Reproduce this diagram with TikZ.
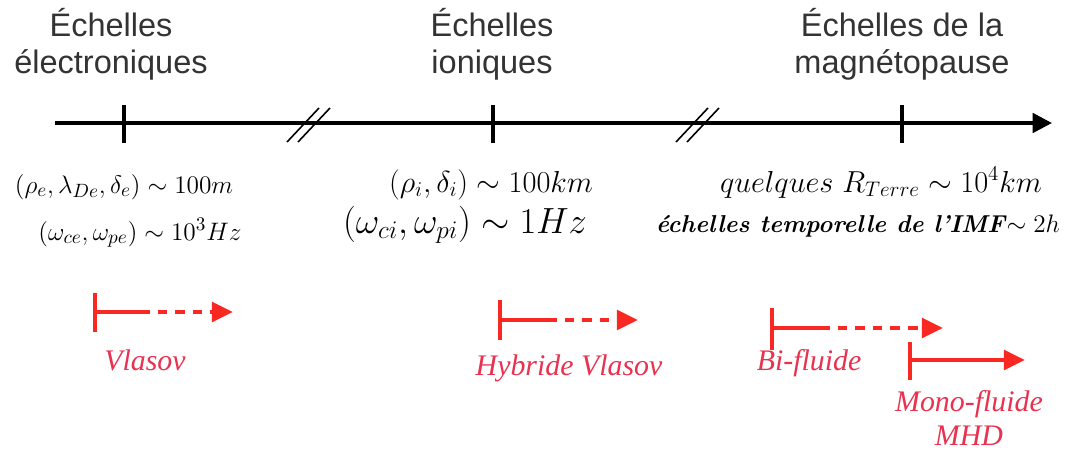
\documentclass[tikz,border=0pt]{standalone}
\usepackage{fontspec}
\newfontfamily\titlefont{Liberation Sans}
\newfontfamily\modelfont{Liberation Serif}
\usetikzlibrary{arrows.meta}
\definecolor{modelred}{RGB}{250,40,35}
\definecolor{modeltext}{RGB}{232,50,80}
\tikzset{
  scaletitle/.style={font=\titlefont\fontsize{18.5}{21}\selectfont, align=center, anchor=base, text=black!80, inner sep=0pt},
  scalemath/.style={anchor=base, inner sep=0pt},
  axisline/.style={line width=2.2pt, black},
  breakline/.style={line width=0.9pt, black},
  modelline/.style={line width=2.4pt, modelred},
  modeldash/.style={dash pattern=on 5.5pt off 4.5pt},
  modeltip/.style={-{Triangle[length=12pt, width=11pt]}},
  modellabel/.style={font=\modelfont\itshape\fontsize{17}{19}\selectfont, text=modeltext, align=center, anchor=base, inner sep=0pt}
}
\begin{document}
\begin{tikzpicture}[x=0.02cm, y=-0.02cm]
  \useasboundingbox (0,0) rectangle (1069,453);
  % titres
  \node[scaletitle] (elec) at (111,73) {Échelles\\électroniques};
  \node[scaletitle] (ion) at (492,73) {Échelles\\ioniques};
  \node[scaletitle] (magneto) at (902,73) {Échelles de la\\magnétopause};
  % axe
  \coordinate (axisstart) at (55,123);
  \coordinate (axisend) at (1052,123);
  \draw[axisline, -{Triangle[length=11pt, width=11pt]}] (axisstart) -- (axisend);
  \foreach \tx in {124,493,902}
    \draw[axisline] (\tx,105) -- (\tx,143);
  \foreach \bx in {287,676} {
    \draw[breakline] (\bx,142) -- ++(32,-34);
    \draw[breakline] (\bx+11,142) -- ++(32,-34);
  }
  % echelles
  \node[scalemath, font=\fontsize{15.7}{17}\selectfont] (elecl) at (124,193) {$(\rho_e,\lambda_{De},\delta_e)\sim 100m$};
  \node[scalemath, font=\fontsize{15.6}{17}\selectfont] (elect) at (140,240) {$(\omega_{ce},\omega_{pe})\sim 10^3Hz$};
  \node[scalemath, font=\fontsize{17.4}{19}\selectfont] (ionl) at (491,192) {$(\rho_i,\delta_i)\sim 100km$};
  \node[scalemath, font=\fontsize{20}{22}\selectfont] (iont) at (465,233) {$(\omega_{ci},\omega_{pi})\sim 1Hz$};
  \node[scalemath, font=\fontsize{17}{19}\selectfont] (magl) at (881,192) {$quelques\ R_{Terre}\sim 10^4km$};
  \node[scalemath, font=\fontsize{13.9}{16}\selectfont] (magt) at (858,232) {\textbf{\textit{échelles temporelle de l'IMF}}$\sim 2h$};
  % modeles
  \coordinate (vlasov) at (95,312);
  \draw[modelline] (vlasov) ++(0,-19) -- ++(0,39);
  \draw[modelline] (vlasov) -- ++(45,0) coordinate (vlasovmid);
  \draw[modelline, modeldash, modeltip] (vlasovmid) -- ++(93,0);
  \node[modellabel] (vlasovlabel) at (145,370) {Vlasov};

  \coordinate (hybride) at (500,320);
  \draw[modelline] (hybride) ++(0,-20) -- ++(0,40);
  \draw[modelline] (hybride) -- ++(47,0) coordinate (hybridemid);
  \draw[modelline, modeldash, modeltip] (hybridemid) -- ++(91,0);
  \node[modellabel] (hybridelabel) at (569,375) {Hybride Vlasov};

  \coordinate (bifluide) at (772,328);
  \draw[modelline] (bifluide) ++(0,-20) -- ++(0,42);
  \draw[modelline] (bifluide) -- ++(48,0) coordinate (bifluidemid);
  \draw[modelline, modeldash, modeltip] (bifluidemid) -- ++(123,0);
  \node[modellabel] (bifluidelabel) at (809,370) {Bi-fluide};

  \coordinate (mhd) at (910,360);
  \draw[modelline] (mhd) ++(0,-18) -- ++(0,38);
  \draw[modelline, modeltip] (mhd) -- ++(115,0);
  \node[modellabel] (mhdlabel) at (969,445) {Mono-fluide\\MHD};
\end{tikzpicture}
\end{document}
